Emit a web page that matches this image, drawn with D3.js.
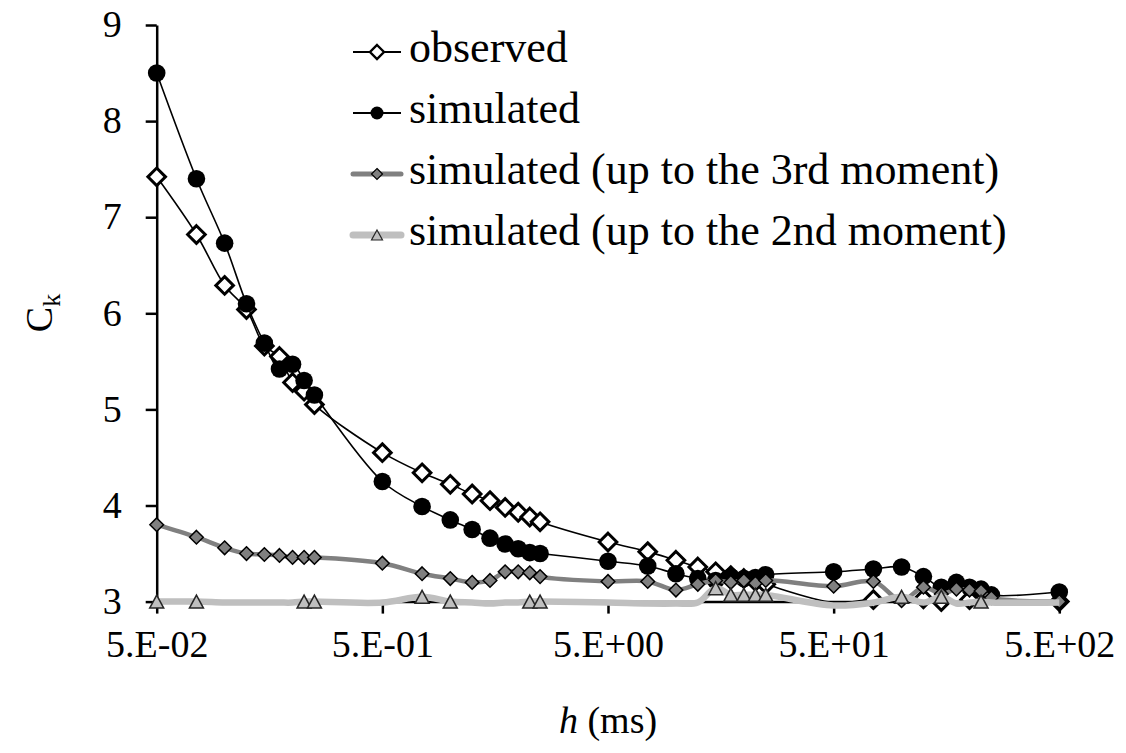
<!DOCTYPE html>
<html lang="en">
<head>
<meta charset="UTF-8">
<title>Ck vs h</title>
<script src="https://d3js.org/d3.v7.min.js"></script>
<style>
  body { margin: 0; background: #fff; }
  svg { display: block; font-family: 'Liberation Serif', 'Times New Roman', serif; }
  .axis path, .axis line { stroke: #000; stroke-width: 2.5; }
  .axis text { font-size: 38px; fill: #000; font-family: 'Liberation Serif', serif; }
  .legend text { font-size: 44px; fill: #000; }
</style>
</head>
<body>
<svg id="chart" width="1126" height="753"></svg>
<script>
// time scale h (ms)
const hValues = [0.05, 0.075, 0.1, 0.125, 0.15, 0.175, 0.2, 0.225, 0.25,
                 0.5, 0.75, 1, 1.25, 1.5, 1.75, 2, 2.25, 2.5,
                 5, 7.5, 10, 12.5, 15, 17.5, 20, 22.5, 25,
                 50, 75, 100, 125, 150, 175, 200, 225, 250,
                 500];

const observed = [7.42, 6.82, 6.29, 6.04, 5.66, 5.55, 5.28, 5.19, 5.05,
                  4.55, 4.34, 4.22, 4.12, 4.05, 3.98, 3.93, 3.88, 3.83,
                  3.62, 3.52, 3.43, 3.36, 3.31, 3.27, 3.24, 3.21, 3.18,
                  2.99, 3.02, 2.99, 3.03, 3.00, 2.99, 3.02, 2.99, 2.99,
                  3.00];

const simulated = [8.50, 7.40, 6.73, 6.10, 5.69, 5.42, 5.47, 5.30, 5.15,
                   4.25, 3.99, 3.85, 3.75, 3.66, 3.60, 3.55, 3.51, 3.50,
                   3.42, 3.37, 3.29, 3.24, 3.22, 3.26, 3.24, 3.25, 3.28,
                   3.31, 3.34, 3.36, 3.26, 3.15, 3.20, 3.15, 3.13, 3.07,
                   3.10];

const sim3rd = [3.80, 3.67, 3.56, 3.50, 3.49, 3.48, 3.46, 3.46, 3.46,
                3.40, 3.29, 3.24, 3.20, 3.22, 3.31, 3.31, 3.30, 3.26,
                3.21, 3.21, 3.12, 3.18, 3.22, 3.20, 3.22, 3.19, 3.22,
                3.16, 3.21, 3.01, 3.15, 3.08, 3.13, 3.12, 3.11, 3.04,
                3.00];

const sim2nd = [3.00, 3.00, 2.99, 2.99, 2.99, 2.99, 2.99, 3.00, 3.00,
                2.99, 3.05, 3.00, 2.99, 2.98, 2.99, 2.99, 3.00, 3.00,
                2.99, 2.98, 2.98, 2.99, 3.14, 3.07, 3.07, 3.07, 3.07,
                2.96, 2.99, 3.05, 2.99, 3.05, 2.98, 2.99, 3.00, 2.99,
                2.99];

const seriesNames = ["observed", "simulated",
                     "simulated (up to the 3rd moment)",
                     "simulated (up to the 2nd moment)"];

const xTickValues = [0.05, 0.5, 5, 50, 500];
const xTickLabels = ["5.E-02", "5.E-01", "5.E+00", "5.E+01", "5.E+02"];
const yTickValues = [3, 4, 5, 6, 7, 8, 9];

// marker shapes
const diamond = r => `M0,${-r}L${r},0L0,${r}L${-r},0Z`;
const triangle = (w, h) => `M0,${-h / 2}L${w / 2},${h / 2}L${-w / 2},${h / 2}Z`;

const styles = [
  { line: "#000", lw: 1.6, shape: diamond(8.8), fill: "#fff", stroke: "#000", sw: 3,
    legShape: diamond(7), legSw: 2.4, legLw: 2 },
  { line: "#000", lw: 1.6, shape: "circle", r: 8.8, fill: "#000", stroke: "#000", sw: 0,
    legR: 6.5, legLw: 2 },
  { line: "#808080", lw: 4.5, shape: diamond(6.8), fill: "#808080", stroke: "#000", sw: 1.5,
    legShape: diamond(5.5), legSw: 1.2, legLw: 5 },
  { line: "#bfbfbf", lw: 6.5, shape: triangle(14, 13), fill: "#bfbfbf", stroke: "#262626", sw: 1.5,
    legShape: triangle(11, 10), legSw: 1.2, legLw: 7 }
];

const seriesValues = [observed, simulated, sim3rd, sim2nd];

const svg = d3.select("#chart");

const x = d3.scaleLog().domain([0.05, 500]).range([156.7, 1059.3]);
const y = d3.scaleLinear().domain([3, 9]).range([601.6, 25]);

// axes
const yAxis = svg.append("g")
  .attr("class", "axis")
  .attr("transform", `translate(${x(0.05)},0)`)
  .call(d3.axisLeft(y).tickValues(yTickValues).tickSize(11).tickSizeOuter(0).tickPadding(24).tickFormat(d3.format("d")));
yAxis.selectAll("text").attr("dy", "0.31em");

const xAxis = svg.append("g")
  .attr("class", "axis")
  .attr("transform", `translate(0,${y(3)})`)
  .call(d3.axisBottom(x).tickValues(xTickValues).tickSize(12).tickSizeOuter(0).tickPadding(16)
    .tickFormat((d, i) => xTickLabels[i]));

// series
const line = d3.line()
  .x(d => x(d.h))
  .y(d => y(d.v))
  .curve(d3.curveCatmullRom.alpha(0.5));

seriesValues.forEach((vals, si) => {
  const st = styles[si];
  const pts = hValues.map((h, i) => ({ h: h, v: vals[i] }));
  const g = svg.append("g").attr("class", "series");
  g.append("path")
    .datum(pts)
    .attr("fill", "none")
    .attr("stroke", st.line)
    .attr("stroke-width", st.lw)
    .attr("stroke-linejoin", "round")
    .attr("d", line);

  // points below the axis minimum get no marker
  const shown = pts.filter(d => d.v >= y.domain()[0]);
  if (st.shape === "circle") {
    g.selectAll("circle").data(shown).join("circle")
      .attr("cx", d => x(d.h)).attr("cy", d => y(d.v)).attr("r", st.r)
      .attr("fill", st.fill);
  } else {
    g.selectAll("path.mk").data(shown).join("path")
      .attr("class", "mk")
      .attr("transform", d => `translate(${x(d.h)},${y(d.v)})`)
      .attr("d", st.shape)
      .attr("fill", st.fill)
      .attr("stroke", st.stroke)
      .attr("stroke-width", st.sw)
      .attr("stroke-linejoin", "miter");
  }
});

// legend
const legend = svg.append("g").attr("class", "legend");
const rowY = d3.scalePoint().domain(d3.range(seriesNames.length)).range([52, 235]);
seriesNames.forEach((name, i) => {
  const st = styles[i];
  const row = legend.append("g").attr("transform", `translate(0,${rowY(i)})`);
  row.append("line")
    .attr("x1", 353).attr("x2", 401).attr("y1", 0).attr("y2", 0)
    .attr("stroke", st.line).attr("stroke-width", st.legLw)
    .attr("stroke-linecap", i >= 2 ? "round" : "butt");
  if (st.shape === "circle") {
    row.append("circle").attr("cx", 377).attr("cy", 0).attr("r", st.legR).attr("fill", st.fill);
  } else {
    row.append("path")
      .attr("transform", "translate(377,0)")
      .attr("d", st.legShape)
      .attr("fill", st.fill).attr("stroke", st.stroke).attr("stroke-width", st.legSw);
  }
  row.append("text").attr("x", 409).attr("y", 10).text(name);
});

// axis titles
const xTitle = svg.append("text")
  .attr("x", 608).attr("y", 733)
  .attr("text-anchor", "middle")
  .style("font-size", "38px");
xTitle.append("tspan").style("font-style", "italic").text("h");
xTitle.append("tspan").text(" (ms)");

const yTitle = svg.append("text")
  .attr("transform", "translate(52,313) rotate(-90)")
  .attr("text-anchor", "middle")
  .style("font-size", "38px");
yTitle.append("tspan").text("C");
yTitle.append("tspan").attr("dy", 8).style("font-size", "26px").text("k");
</script>
</body>
</html>
